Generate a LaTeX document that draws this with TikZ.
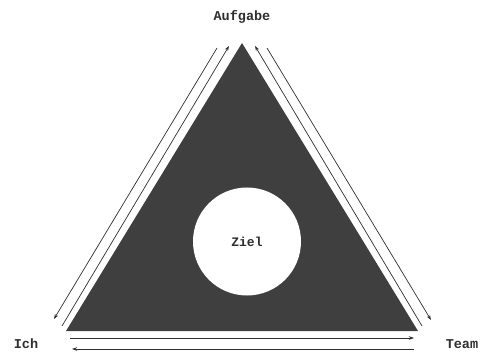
\documentclass[tikz,border=0pt]{standalone}
\usepackage{fontspec}
\usetikzlibrary{arrows.meta,positioning,calc}
\newfontfamily\labelfont{Liberation Mono}
\definecolor{ink}{HTML}{2E2E2E}
\definecolor{tone}{HTML}{3F3F3F}

\begin{document}
\begin{tikzpicture}[x=1pt,y=-1pt,
    flow/.style={ink,line width=0.7pt,-{Stealth[length=5pt,width=3.5pt]}},
    lbl/.style={font=\labelfont\bfseries\fontsize{13.5}{15}\selectfont,text=ink}]
  \useasboundingbox (0,0) rectangle (483,353);

  % Triangle corners
  \coordinate (top) at (242,43);
  \coordinate (left) at (66,331);
  \coordinate (right) at (418,331);
  \fill[tone] (top) -- (left) -- (right) -- cycle;

  % Goal in the middle
  \node[circle,fill=white,minimum size=108pt,inner sep=0pt,
        font=\labelfont\bfseries\fontsize{13}{15}\selectfont,text=ink] (ziel) at (247,241.5) {Ziel};

  % Corner labels
  \node[lbl] (aufgabe) at (242,17) {Aufgabe};
  \node[lbl] (ich) at (26,344) {Ich};
  \node[lbl] (team) at (462,344) {Team};

  % Ends of the arrows along the edges
  \coordinate (li0) at (62,326);  \coordinate (li1) at (229,46);
  \coordinate (lo0) at (217,48);  \coordinate (lo1) at (54,319);
  \coordinate (ri0) at (422,326); \coordinate (ri1) at (255,46);
  \coordinate (ro0) at (267,48);  \coordinate (ro1) at (431,320);
  \coordinate (bu0) at (70,338);  \coordinate (bu1) at (414,338);
  \coordinate (bl0) at (414,349); \coordinate (bl1) at (72,349);

  \foreach \s/\e in {li0/li1, lo0/lo1, ri0/ri1, ro0/ro1, bu0/bu1, bl0/bl1} {
    \draw[flow] (\s) -- (\e);
  }
\end{tikzpicture}
\end{document}
